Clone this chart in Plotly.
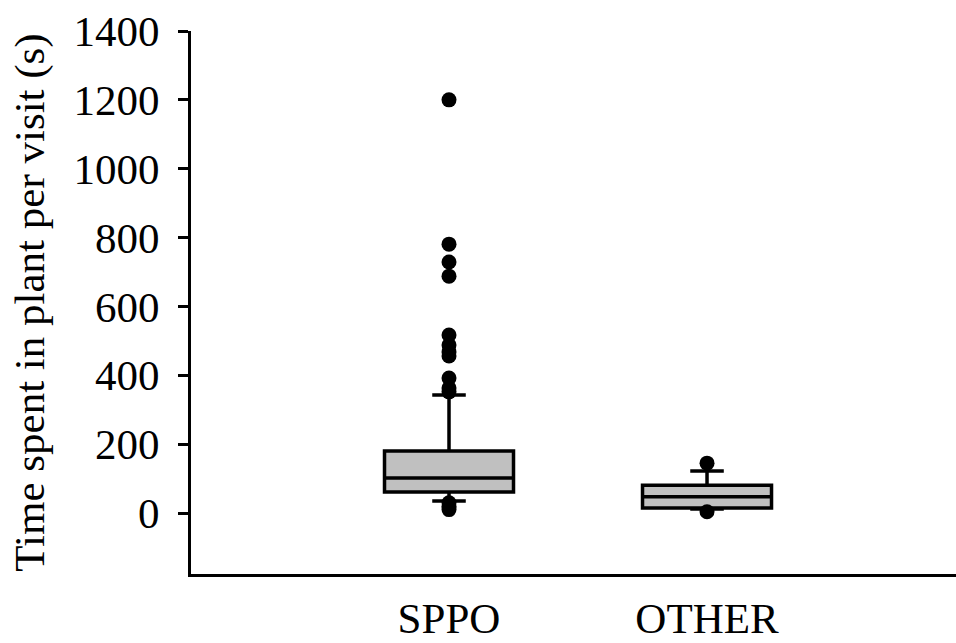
import plotly.graph_objects as go

# Visit groups and their box-plot summary statistics (seconds)
groups = ["SPPO", "OTHER"]
q1 = [61, 15]
median = [102, 47]
q3 = [180, 81]
lower_fence = [35, 12]
upper_fence = [343, 122]

# Individual visits lying beyond the whiskers
sppo_outliers = [1200, 781, 729, 688, 517, 488, 468, 456, 392, 363, 352, 30, 20, 10]
other_outliers = [145, 4]

y_ticks = [0, 200, 400, 600, 800, 1000, 1200, 1400]

font_family = "Liberation Serif, Times New Roman, serif"
font_size = 43

fig = go.Figure()

fig.add_trace(go.Box(
    x=groups,
    q1=q1,
    median=median,
    q3=q3,
    lowerfence=lower_fence,
    upperfence=upper_fence,
    width=0.5,
    whiskerwidth=0.26,
    fillcolor="#c0c0c0",
    line=dict(color="black", width=3.5),
    boxpoints=False,
    showlegend=False,
    hoverinfo="skip",
))

out_x = [groups[0]] * len(sppo_outliers) + [groups[1]] * len(other_outliers)
out_y = sppo_outliers + other_outliers
fig.add_trace(go.Scatter(
    x=out_x,
    y=out_y,
    mode="markers",
    marker=dict(color="black", size=15, line=dict(width=0)),
    showlegend=False,
    hoverinfo="skip",
))

fig.update_layout(
    width=956,
    height=643,
    margin=dict(l=191, r=0, t=31, b=69, autoexpand=False),
    paper_bgcolor="white",
    plot_bgcolor="white",
    font=dict(family=font_family, size=font_size, color="black"),
    xaxis=dict(
        type="category",
        categoryorder="array",
        categoryarray=groups,
        range=[-1, 1.965],
        automargin=False,
        showline=True,
        linecolor="black",
        linewidth=3,
        showgrid=False,
        zeroline=False,
        ticks="",
        ticklabelstandoff=4,
        tickfont=dict(family=font_family, size=font_size, color="black"),
    ),
    yaxis=dict(
        range=[-177, 1400],
        tickvals=y_ticks,
        ticktext=[str(v) for v in y_ticks],
        automargin=False,
        showline=True,
        linecolor="black",
        linewidth=3,
        showgrid=False,
        zeroline=False,
        ticks="outside",
        ticklen=10,
        tickwidth=3,
        tickcolor="black",
        ticklabelstandoff=10,
        tickfont=dict(family=font_family, size=font_size, color="black"),
        title=dict(
            text="Time spent in plant per visit (s)",
            font=dict(family=font_family, size=font_size, color="black"),
            standoff=16,
        ),
    ),
)

fig.write_html("out.html")
